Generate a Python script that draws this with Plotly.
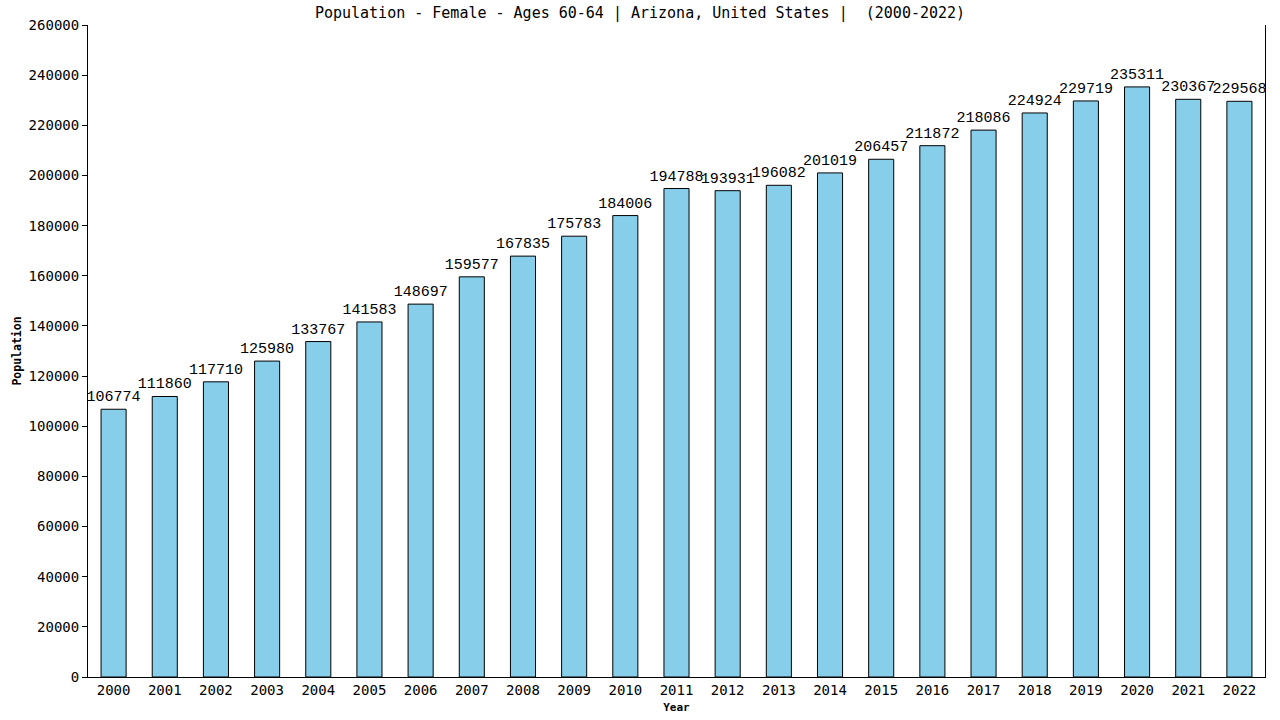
import plotly.graph_objects as go

years = [str(y) for y in range(2000, 2023)]
population = [106774, 111860, 117710, 125980, 133767, 141583, 148697, 159577, 167835,
              175783, 184006, 194788, 193931, 196082, 201019, 206457, 211872, 218086,
              224924, 229719, 235311, 230367, 229568]
y_ticks = list(range(0, 260001, 20000))

FONT = "DejaVu Sans Mono"
LABEL_FONT = "Liberation Mono"

fig = go.Figure(go.Bar(
    x=years, y=population,
    text=[str(v) for v in population],
    textposition="outside", textangle=0, constraintext="none", cliponaxis=False,
    textfont=dict(family=LABEL_FONT, size=15, color="black"),
    marker=dict(color="#87CEEB", line=dict(color="black", width=1)),
    width=0.49,
))

fig.update_layout(
    width=1280, height=720,
    paper_bgcolor="white", plot_bgcolor="white",
    margin=dict(l=88, r=15, t=25, b=43, autoexpand=False),
    font=dict(family=FONT, size=14, color="black"),
    title=dict(text="Population - Female - Ages 60-64 | Arizona, United States |  (2000-2022)",
               x=0.5, xanchor="center", y=0.982, yanchor="middle",
               font=dict(family=FONT, size=15, color="black")),
    showlegend=False,
)
fig.update_xaxes(
    showline=True, linecolor="black", linewidth=1, ticks="", showgrid=False,
    automargin=False,
    title=dict(text="<b>Year</b>", font=dict(family=FONT, size=11), standoff=6),
    tickfont=dict(family=FONT, size=14),
)
fig.update_yaxes(
    range=[0, 260000], tickvals=y_ticks, ticktext=[str(v) for v in y_ticks],
    showline=True, linecolor="black", linewidth=1, mirror=True,
    ticks="outside", ticklen=5, tickcolor="black", showgrid=False, zeroline=False,
    automargin=False,
    title=dict(text="<b>Population</b>", font=dict(family=FONT, size=11.5), standoff=4),
    tickfont=dict(family=FONT, size=14),
)

fig.write_html("out.html", config={"displayModeBar": False},
               post_script="document.body.style.margin='0';")
